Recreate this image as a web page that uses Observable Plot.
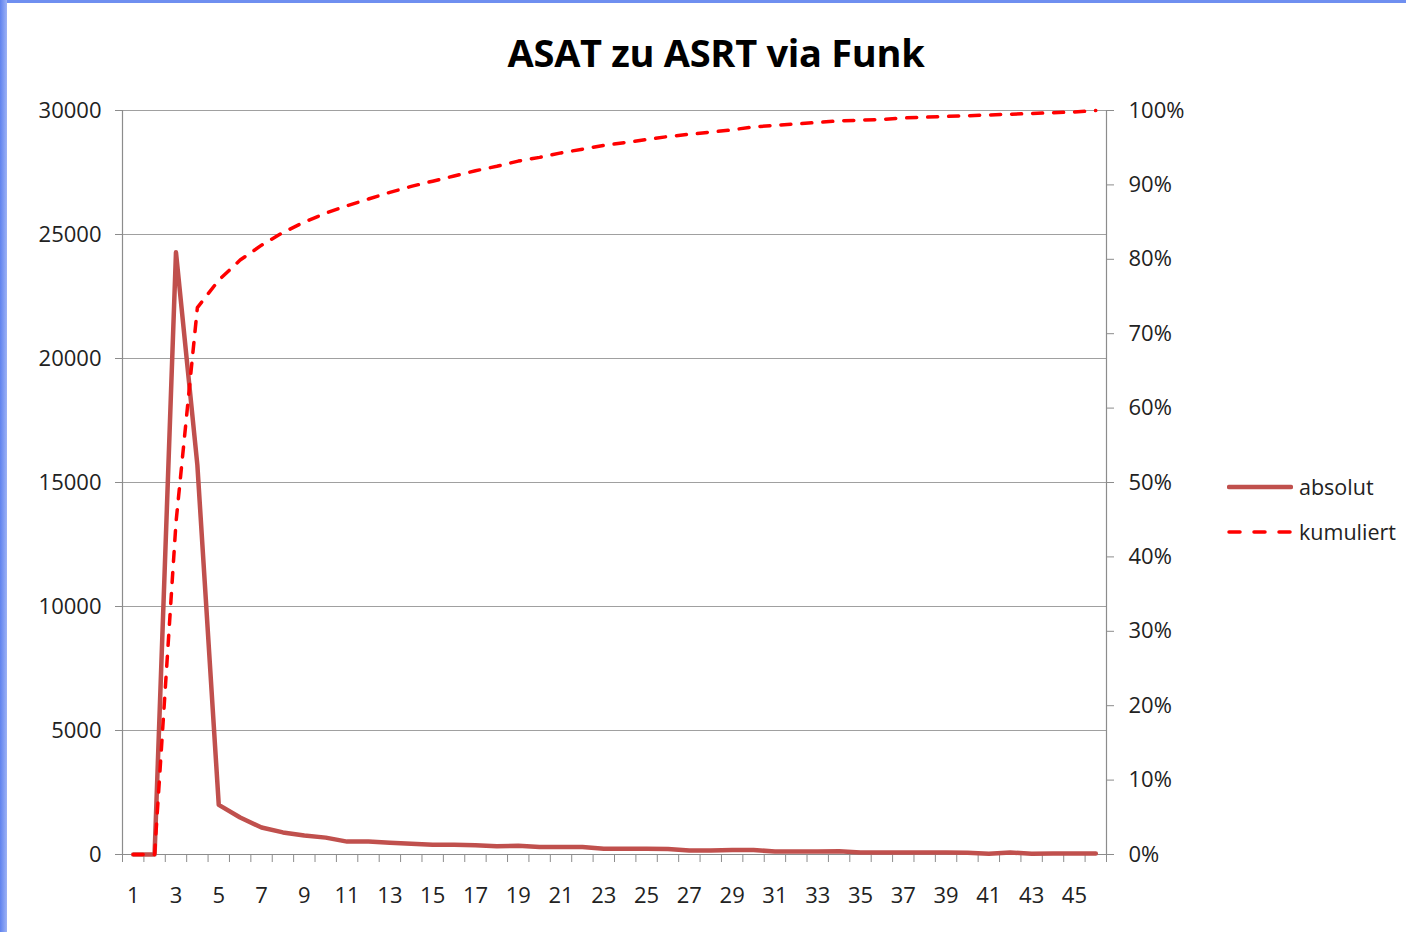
<!DOCTYPE html>
<html>
<head>
<meta charset="utf-8">
<script src="https://cdn.jsdelivr.net/npm/d3@7"></script>
<script src="https://cdn.jsdelivr.net/npm/@observablehq/plot@0.6"></script>
<style>
  html, body { margin: 0; padding: 0; background: #fff; }
  body { width: 1406px; height: 932px; position: relative; overflow: hidden; font-family: "Open Sans", sans-serif; }
  #border-top { position: absolute; left: 0; top: 0; width: 1406px; height: 3px; background: #6f8ff0; }
  #border-left { position: absolute; left: 0; top: 0; width: 7px; height: 932px; background: linear-gradient(to right, #5f82ee, #9db2f5); }
  #title { height: 90px; box-sizing: border-box; padding-top: 27px; text-align: center; font-weight: 700; font-size: 38px; color: #000; line-height: 50px; padding-left: 26px; letter-spacing: -0.3px; }
  #legend { position: absolute; left: 1227px; top: 464px; font-size: 21.5px; color: #222; }
  .item { display: flex; align-items: center; height: 45px; }
  .item svg { margin-right: 6px; }
</style>
</head>
<body>
<div id="border-top"></div>
<div id="border-left"></div>
<div id="title">ASAT zu ASRT via Funk</div>
<div id="chart"></div>
<div id="legend">
  <div class="item"><svg width="66" height="10"><line x1="2" y1="5" x2="64" y2="5" stroke="#C0504D" stroke-width="4.5" stroke-linecap="round"/></svg><span>absolut</span></div>
  <div class="item"><svg width="66" height="10"><line x1="2" y1="5" x2="64" y2="5" stroke="#FF0000" stroke-width="3.5" stroke-dasharray="11,14" stroke-linecap="round"/></svg><span>kumuliert</span></div>
</div>
<script>
// categories (x)
const categories = [1,2,3,4,5,6,7,8,9,10,11,12,13,14,15,16,17,18,19,20,21,22,23,24,25,26,27,28,29,30,31,32,33,34,35,36,37,38,39,40,41,42,43,44,45,46];
// series "absolut" (left axis)
const absolut = [0,0,24280,15700,2000,1490,1090,890,770,680,520,520,470,430,390,390,370,335,350,300,300,300,230,230,230,220,160,160,180,180,120,120,120,130,80,80,80,80,80,70,30,80,30,40,40,40];
// series "kumuliert" in percent (right axis)
const kumuliert = [0,0,44.6,73.5,77.2,79.9,81.9,83.6,85.0,86.2,87.2,88.1,89.0,89.8,90.5,91.2,91.9,92.5,93.2,93.7,94.3,94.8,95.3,95.7,96.1,96.5,96.8,97.1,97.4,97.8,98.0,98.2,98.4,98.6,98.7,98.8,99.0,99.1,99.2,99.3,99.4,99.5,99.6,99.7,99.8,100];
// tick labels
const leftTicks = [0,5000,10000,15000,20000,25000,30000];
const rightTicks = [0,10,20,30,40,50,60,70,80,90,100];
const xLabels = [1,3,5,7,9,11,13,15,17,19,21,23,25,27,29,31,33,35,37,39,41,43,45];

const data = categories.map((c, i) => ({cat: c, abs: absolut[i], cum: kumuliert[i]}));
const yMax = 30000;
const pctToY = p => p / 100 * yMax;
const boundaries = [...categories.map(c => c - 0.5), categories[categories.length - 1] + 0.5];

const axisColor = "#8c8c8c";
const chart = Plot.plot({
  width: 1406,
  height: 842,
  marginTop: 20,
  marginBottom: 78,
  marginLeft: 122,
  marginRight: 300,
  style: {fontFamily: "Open Sans, sans-serif", fontSize: "22px", background: "transparent"},
  x: {type: "linear", domain: [0.5, 46.5]},
  y: {domain: [0, yMax]},
  marks: [
    Plot.gridY(leftTicks.filter(d => d > 0), {stroke: "#a0a0a0", strokeOpacity: 1, strokeWidth: 1.2}),
    Plot.ruleX([0.5], {stroke: axisColor, strokeWidth: 1.2}),
    Plot.ruleX([46.5], {stroke: axisColor, strokeWidth: 1.2}),
    Plot.ruleY([0], {stroke: axisColor, strokeWidth: 1.2}),
    Plot.axisY(leftTicks, {anchor: "left", tickSize: 7, tickPadding: 14, stroke: axisColor, fill: "#222", label: null, tickFormat: d => String(d)}),
    Plot.axisY(rightTicks.map(pctToY), {anchor: "right", tickSize: 7, tickPadding: 15, stroke: axisColor, fill: "#222", label: null, tickFormat: d => Math.round(d / yMax * 100) + "%"}),
    Plot.axisX(boundaries, {tickSize: 8, stroke: axisColor, label: null, tickFormat: () => ""}),
    Plot.axisX(xLabels, {tickSize: 0, tickPadding: 33, fill: "#222", label: null, tickFormat: d => String(d)}),
    Plot.line(data, {x: "cat", y: "abs", stroke: "#C0504D", strokeWidth: 4.5, strokeLinejoin: "round", strokeLinecap: "round"}),
    Plot.line(data, {x: "cat", y: d => pctToY(d.cum), stroke: "#FF0000", strokeWidth: 3.5, strokeDasharray: "10,11", strokeLinecap: "round"})
  ]
});
document.getElementById("chart").appendChild(chart);
</script>
</body>
</html>
